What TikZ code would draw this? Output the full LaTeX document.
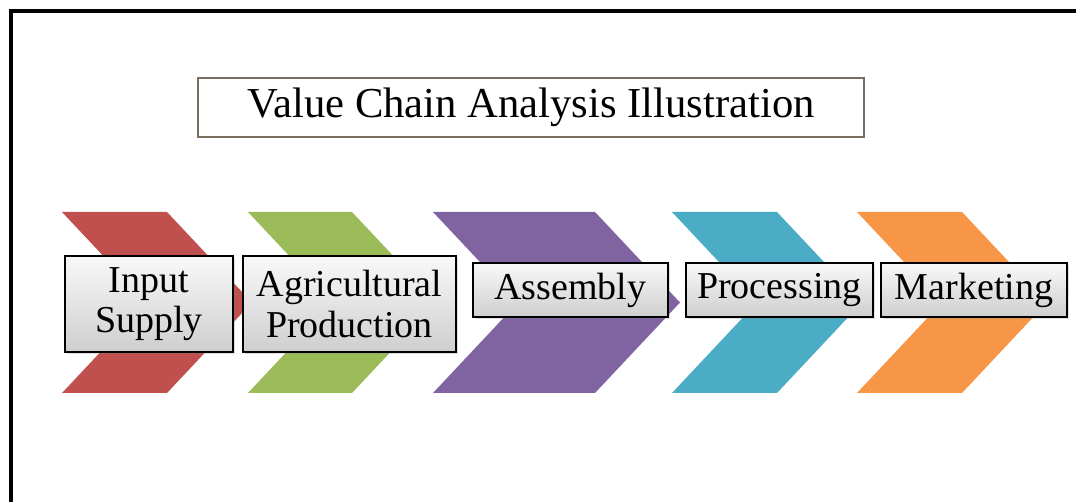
\documentclass[tikz,border=0pt]{standalone}
\usepackage{fontspec}
\setmainfont{Liberation Serif}
\usetikzlibrary{shadows}
\tikzset{
every picture/.style={
line width=1pt
}}
\definecolor{cred}{HTML}{C0504D}
\definecolor{cgreen}{HTML}{9BBB59}
\definecolor{cpurple}{HTML}{8064A2}
\definecolor{cblue}{HTML}{4BACC6}
\definecolor{corange}{HTML}{F79646}
\definecolor{titleframe}{HTML}{7A6F5E}

\begin{document}
\begin{tikzpicture}[x=0.75pt, y=-0.75pt,
stage/.style = {rectangle, draw=black, line width=1.3pt, top color=gray!5,
  bottom color=gray!38, align=center, font=\fontsize{28.5}{30.5}\selectfont,
  inner sep=0pt, drop shadow={opacity=0.25, shadow xshift=1.5pt, shadow yshift=-1.5pt}}]
\useasboundingbox (0,0) rectangle (1076,502);
\fill[white] (0,0) rectangle (1076,502);
% frame, only top and left are inside
\draw[line width=2.4pt] (1076,11) -- (11,11) -- (11,502);

\node[draw=titleframe, line width=1.1pt, minimum width=499.5pt, minimum height=44.25pt,
  font=\fontsize{32}{36}\selectfont] at (531,107.5) (title) {Value Chain Analysis Illustration};

% chevrons: left x / top width / colour
\foreach \l/\w/\c in {62/105/cred, 248/104/cgreen, 433/162/cpurple, 672/105/cblue, 857/105/corange}
  \fill[\c] (\l,212) -- ++(\w,0) -- ++(85,90.5) -- ++(-85,90.5) -- ++(-\w,0) -- ++(85,-90.5) -- cycle;

\node[stage, minimum width=126pt, minimum height=72pt] at (149,304) (input) {Input\\Supply};
\node[stage, minimum width=159.75pt, minimum height=72pt] at (349.5,304) (agri) {Agricultural\\Production};
\node[stage, minimum width=146.25pt, minimum height=40.5pt] at (570.5,290) (asm) {Assembly};
\node[stage, minimum width=140.25pt, minimum height=40.5pt] at (779.5,290) (proc) {Processing};
\node[stage, minimum width=139.5pt, minimum height=40.5pt] at (974,290) (mkt) {Marketing};

\end{tikzpicture}
\end{document}
